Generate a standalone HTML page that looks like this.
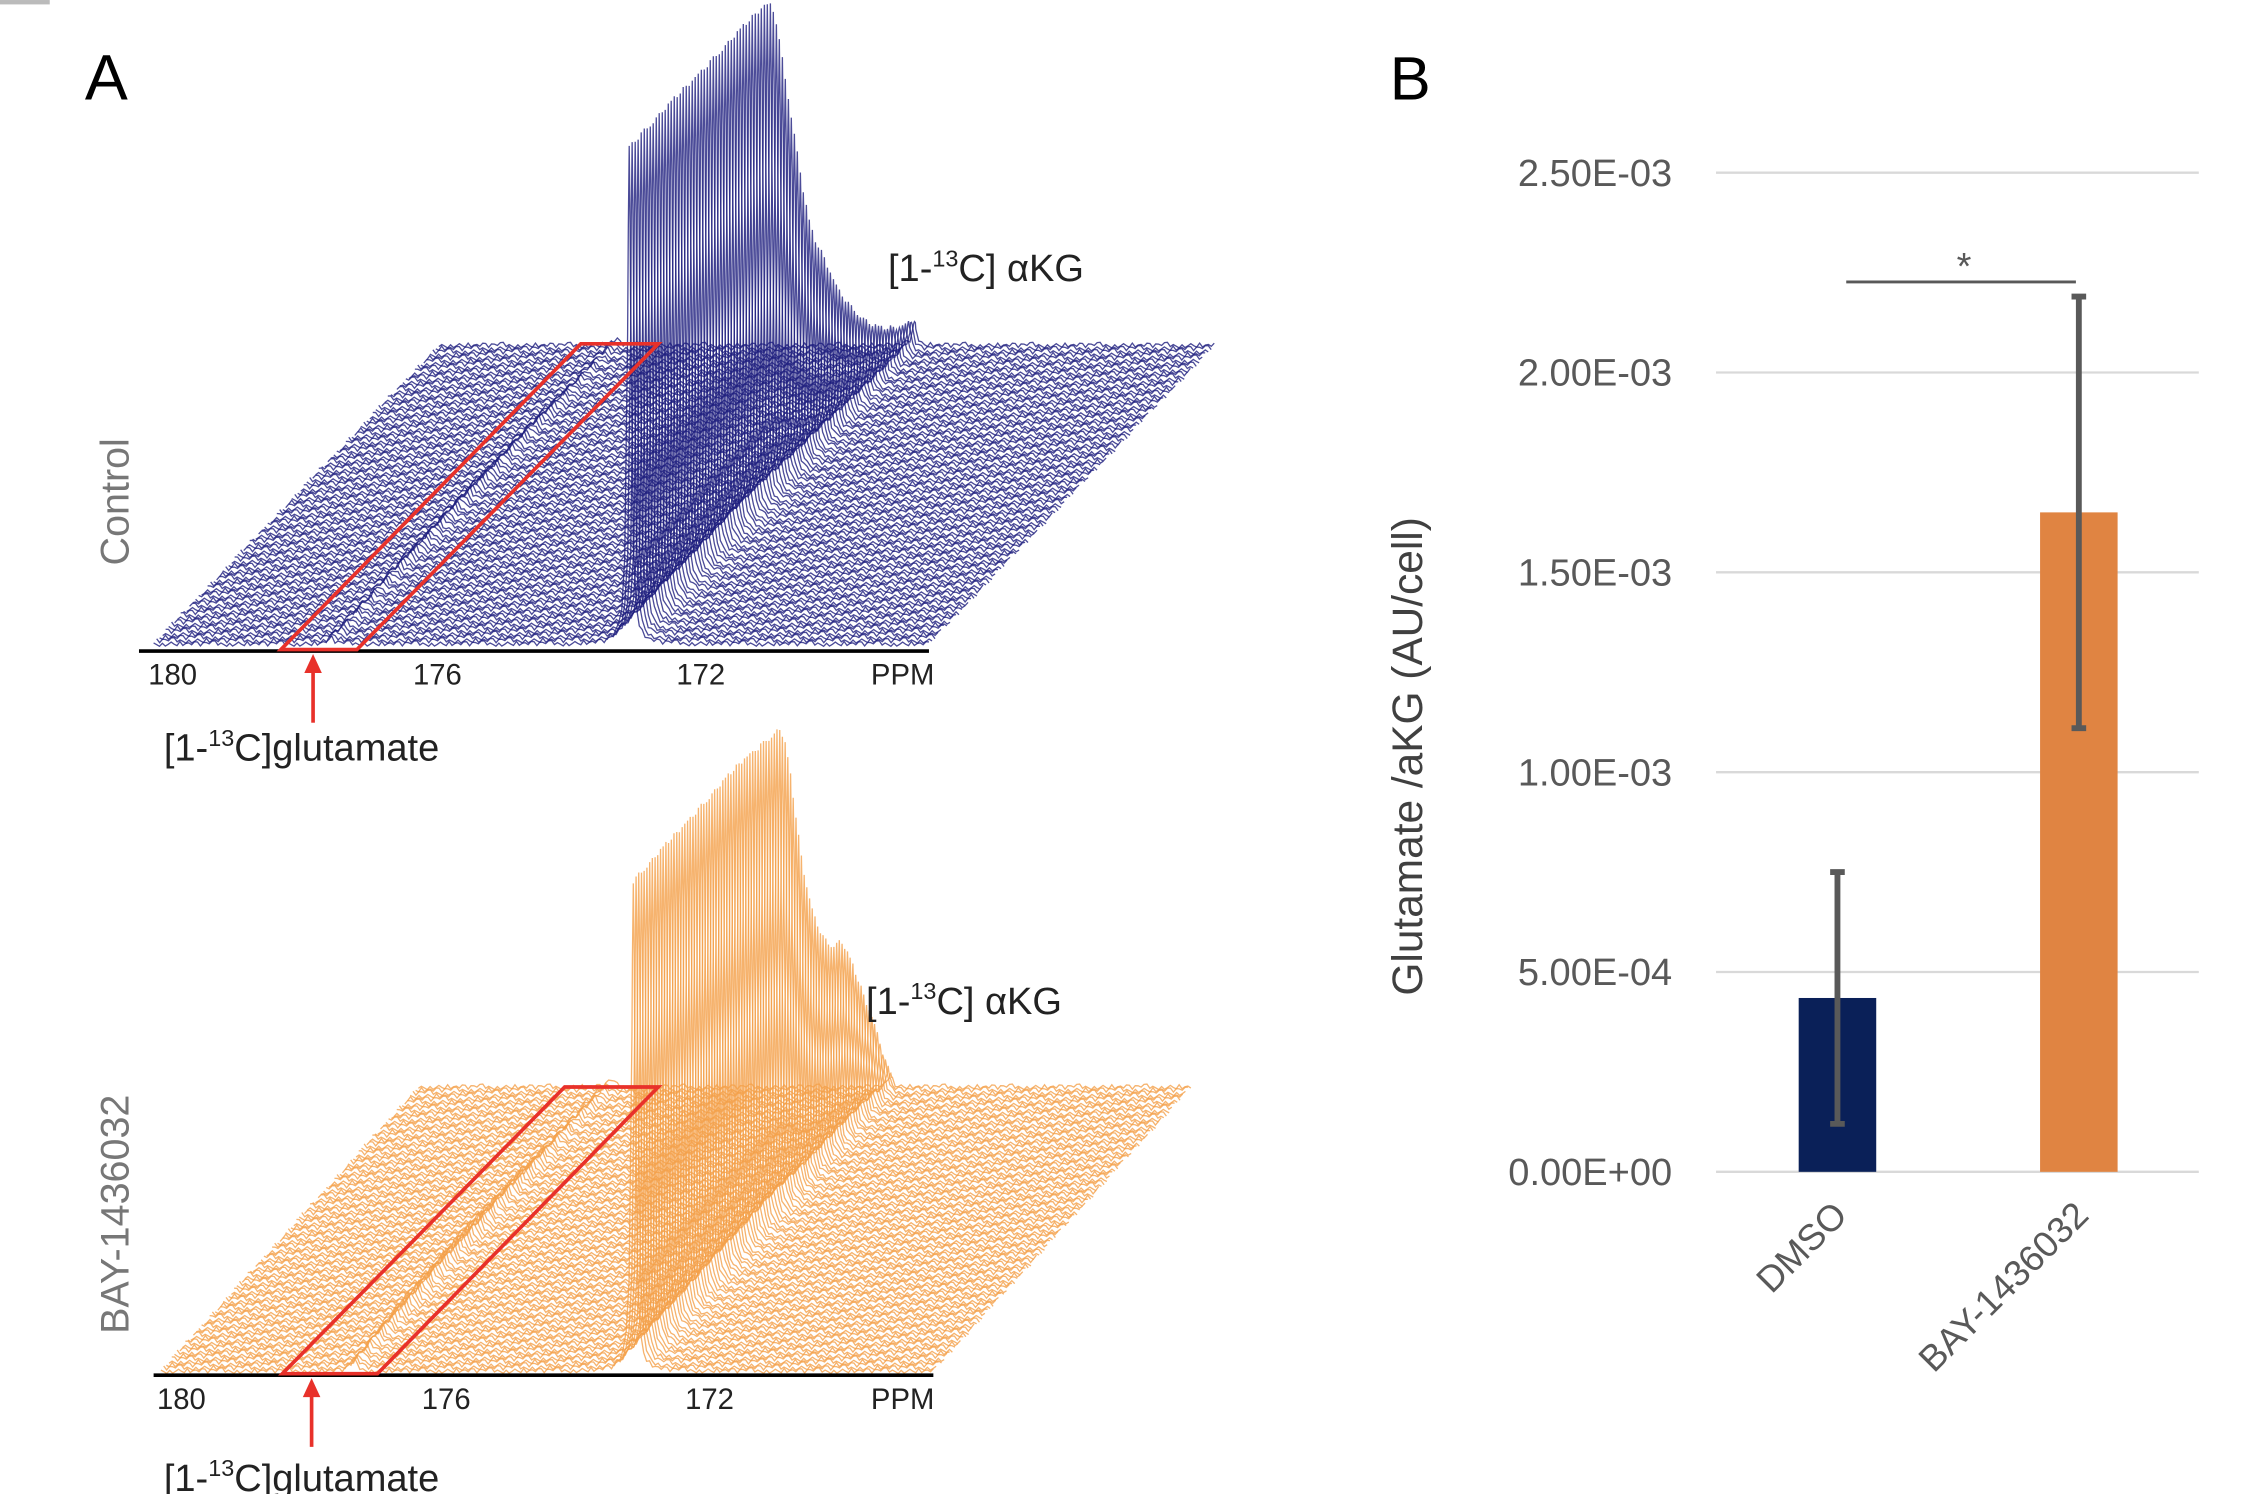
<!DOCTYPE html>
<html><head><meta charset="utf-8"><style>
html,body{margin:0;padding:0;background:#fff}
svg{display:block}
text{font-family:"Liberation Sans",sans-serif}
</style></head><body>
<svg id="fig" width="2262" height="1494" viewBox="0 0 1546.2 1021.2" xmlns="http://www.w3.org/2000/svg">
<rect x="0" y="0" width="1546.2" height="1021.2" fill="#fff"/>
<rect x="0" y="0" width="34" height="3" fill="#bbb"/>
<text x="58" y="68" font-size="44" fill="#000">A</text>
<text x="950" y="68" font-size="42" fill="#000">B</text>
<g id="waterfalls"></g>

<g>
<text transform="translate(88,343) rotate(-90)" text-anchor="middle" font-size="27" fill="#777">Control</text>
<line x1="95" y1="445" x2="635" y2="445" stroke="#000" stroke-width="2.5"/>
<text x="118" y="468" font-size="20" text-anchor="middle" fill="#222">180</text>
<text x="299" y="468" font-size="20" text-anchor="middle" fill="#222">176</text>
<text x="479" y="468" font-size="20" text-anchor="middle" fill="#222">172</text>
<text x="617" y="468" font-size="20" text-anchor="middle" fill="#222">PPM</text>
<polygon points="192,444 244,444 450,235 397,235" fill="none" stroke="#e8312a" stroke-width="2.5"/>
<line x1="214" y1="494" x2="214" y2="458" stroke="#e8312a" stroke-width="2.5"/>
<polygon points="208,460 220,460 214,447" fill="#e8312a"/>
<text x="112" y="520" font-size="26" fill="#222">[1-<tspan font-size="16" dy="-10">13</tspan><tspan dy="10">C]glutamate</tspan></text>
<text x="607" y="192" font-size="26" fill="#222">[1-<tspan font-size="16" dy="-10">13</tspan><tspan dy="10">C] αKG</tspan></text>
</g>

<g>
<text transform="translate(88,830) rotate(-90)" text-anchor="middle" font-size="27" fill="#777">BAY-1436032</text>
<line x1="105" y1="940" x2="638" y2="940" stroke="#000" stroke-width="2.5"/>
<text x="124" y="963" font-size="20" text-anchor="middle" fill="#222">180</text>
<text x="305" y="963" font-size="20" text-anchor="middle" fill="#222">176</text>
<text x="485" y="963" font-size="20" text-anchor="middle" fill="#222">172</text>
<text x="617" y="963" font-size="20" text-anchor="middle" fill="#222">PPM</text>
<polygon points="193,939 258,939 450,743 386,743" fill="none" stroke="#e8312a" stroke-width="2.5"/>
<line x1="213" y1="989" x2="213" y2="953" stroke="#e8312a" stroke-width="2.5"/>
<polygon points="207,955 219,955 213,942" fill="#e8312a"/>
<text x="112" y="1019" font-size="26" fill="#222">[1-<tspan font-size="16" dy="-10">13</tspan><tspan dy="10">C]glutamate</tspan></text>
<text x="592" y="693" font-size="26" fill="#222">[1-<tspan font-size="16" dy="-10">13</tspan><tspan dy="10">C] αKG</tspan></text>
</g>

<g id="barchart"></g>
</svg>
<script>
// ---- Waterfall data (peak heights per time row, front to back) ----
const controlPeakHeights = [340,340,340,340,340,340,340,340,340,340,340,340,340,340,340,340,340,340,340,340,340,340,340,340,340,340,340,340,340,340,340,340,340,340,340,340,340,340,340,340,340,340,340,340,340,340,
338,336,330,320,305,290,275,260,245,230,215,200,185,172,160,150,142,136,130,124,117,110,103,97,91,86,81,76,71,67,63,59,55,51,47,44,41,38,35,33,31,29,27,25,23,22,21,20,19,18];
const bayPeakHeights = [335,335,335,335,335,335,335,335,335,335,335,335,335,335,335,335,335,335,335,335,335,335,335,335,335,335,335,335,335,335,335,335,335,335,335,335,335,335,335,335,335,335,334,334,333,333,332,332,331,331,330,330,329,329,
328,322,314,302,288,272,256,240,225,212,200,190,181,173,166,160,154,149,145,142,140,139,138,135,130,124,118,111,104,97,90,83,76,69,62,55,47,39,30,22,15,10];
const controlGlutHeights = [4,5,6,7,8,8,8,8,7,6,5,4];
const bayGlutHeights = [8,10,12,13,14,14,13,12,10,8,6,5];
const noiseTemplate = [0.3,-0.8,1.2,-0.2,0.6,-1.1,0.9,-0.4,0.1,1.3,-0.9,0.5,-0.3,0.8,-1.2,0.4,-0.6,1.0,-0.1,0.7,-1.0,0.2,-0.5];

// ---- Bar chart data ----
const barCategories = ["DMSO","BAY-1436032"];
const barValues = [0.000435, 0.00165];
const barErrors = [0.000315, 0.00054];
const yTickValues = [0, 0.0005, 0.001, 0.0015, 0.002, 0.0025];
const yTickLabels = ["0.00E+00","5.00E-04","1.00E-03","1.50E-03","2.00E-03","2.50E-03"];

const NS = "http://www.w3.org/2000/svg";
function mk(tag, attrs, parent){const e=document.createElementNS(NS,tag);for(const k in attrs)e.setAttribute(k,attrs[k]);parent.appendChild(e);return e;}

function drawWaterfall(cfg, heights, gluts, name){
  const g = mk('g',{},document.getElementById('waterfalls'));
  
  
  const N = heights.length;
  const ppmToX = p => cfg.x180 + (180 - p) * cfg.pxPerPpm;
  for (let r = N - 1; r >= 0; r--) {
    const t = r / (N - 1);
    const base = cfg.yBase - t * cfg.dy;
    const sx = t * cfg.dx;
    const h = heights[r];
    const gh = gluts[Math.min(gluts.length - 1, Math.floor(t * gluts.length))];
    const xp = ppmToX(cfg.peakPpm), xg = ppmToX(cfg.glutPpm);
    const xs = [];
    for (let x = cfg.xl; x <= cfg.xr; x += 2) xs.push(x);
    xs.push(xp - 0.6, xp, xp + 0.6);
    xs.sort((a,b)=>a-b);
    let d = '';
    xs.forEach((x, i) => {
      const n = noiseTemplate[(i * 7 + r * 13) % noiseTemplate.length] * 1.5;
      const pk = h / (1 + Math.pow((x - xp) / 1.4, 2));
      const gp = gh / (1 + Math.pow((x - xg) / 2.5, 2));
      const y = base - n - pk - gp;
      d += (i ? 'L' : 'M') + (x + sx).toFixed(1) + ' ' + y.toFixed(1);
    });
    const p = mk('path',{d:d, fill:'none', stroke:cfg.color, 'stroke-width':0.9, 'stroke-opacity':0.8}, g);
    
    
  }
}
drawWaterfall({x180:118, pxPerPpm:45.1, yBase:440, dx:195, dy:204, xl:105, xr:635, peakPpm:173.08, glutPpm:177.6, color:'#1e1e7e'}, controlPeakHeights, controlGlutHeights, 'control-spectra');
drawWaterfall({x180:124, pxPerPpm:45.1, yBase:937, dx:176, dy:194, xl:110, xr:638, peakPpm:173.15, glutPpm:177.4, color:'#f4a04a'}, bayPeakHeights, bayGlutHeights, 'bay-spectra');

// ---- Bar chart ----
(function(){
  const bc = document.getElementById('barchart');
  const y0 = 801, yTop = 118, vMax = 0.0025;
  const yScale = v => y0 - v / vMax * (y0 - yTop);
  const gx1 = 1173, gx2 = 1503;
  const centers = [1256, 1421];
  const bw = 53;
  const colors = ['#0a2058','#e08442'];
  yTickValues.forEach((v, i) => {
    const l = mk('line',{x1:gx1, x2:gx2, y1:yScale(v), y2:yScale(v), stroke:'#d9d9d9', 'stroke-width':1.6}, bc);
    
    
    const t = mk('text',{x:1143, y:yScale(v)+9, 'text-anchor':'end', 'font-size':26, fill:'#595959'}, bc);
    t.textContent = yTickLabels[i];
    
    
  });
  barCategories.forEach((c, i) => {
    const top = yScale(barValues[i]);
    const b = mk('rect',{x:centers[i]-bw/2, y:top, width:bw, height:y0-top, fill:colors[i]}, bc);
    
    
    const hi = yScale(barValues[i] + barErrors[i]), lo = yScale(barValues[i] - barErrors[i]);
    const e = mk('path',{d:`M${centers[i]} ${hi}V${lo}M${centers[i]-5} ${hi}H${centers[i]+5}M${centers[i]-5} ${lo}H${centers[i]+5}`, stroke:'#595959', 'stroke-width':4, fill:'none'}, bc);
    
    
    const t = mk('text',{transform:`translate(${centers[i]+8},${832}) rotate(-45)`, 'text-anchor':'end', 'font-size':25, fill:'#595959'}, bc);
    t.textContent = c;
    
    
  });
  const sigY = yScale(barValues[1] + barErrors[1]) - 10;
  const s = mk('line',{x1:centers[0]+6, x2:centers[1]-2, y1:sigY, y2:sigY, stroke:'#595959', 'stroke-width':2}, bc);
  
  
  const st = mk('text',{x:(centers[0]+centers[1])/2+4, y:sigY-2, 'text-anchor':'middle', 'font-size':26, fill:'#595959'}, bc);
  st.textContent = '*';
  
  
  const yt = mk('text',{transform:'translate(972,517) rotate(-90)', 'text-anchor':'middle', 'font-size':29, fill:'#404040'}, bc);
  yt.textContent = 'Glutamate /aKG (AU/cell)';
  
  
})();
</script>
</body></html>
